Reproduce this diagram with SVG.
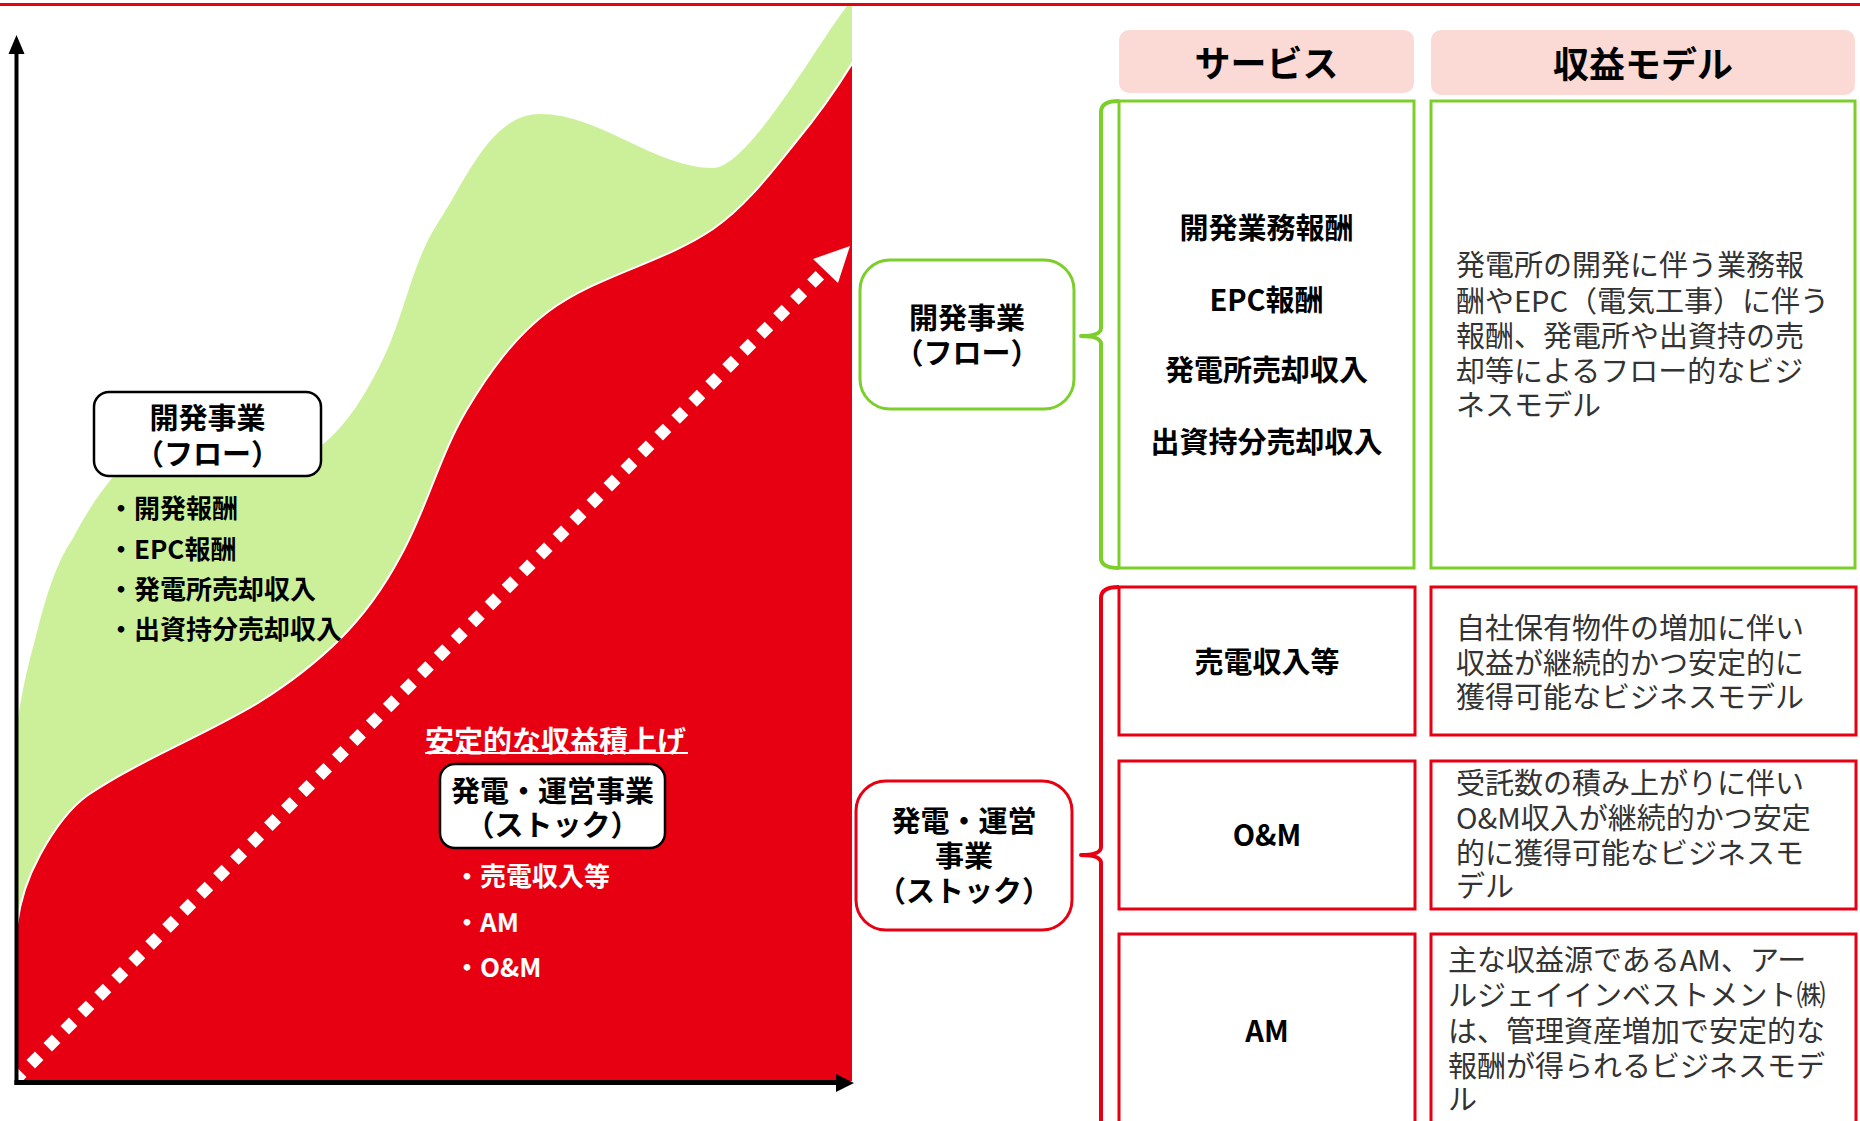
<svg xmlns="http://www.w3.org/2000/svg" width="1860" height="1121" viewBox="0 0 1860 1121">
<defs>
<style>
text{font-family:"Noto Sans CJK JP","Noto Sans",sans-serif;dominant-baseline:central}
.b{font-weight:700;font-size:29px;fill:#000}
.c{text-anchor:middle}
.it{font-weight:700;font-size:26px;fill:#000}
.w{fill:#fff}
.rv{font-weight:400;font-size:29px;fill:#333}
.hd{font-weight:700;font-size:36px;fill:#000;text-anchor:middle}
.gbox{fill:#fff;stroke:#7CCF2A;stroke-width:3}
.rbox{fill:#fff;stroke:#E60012;stroke-width:3}
.kbox{fill:#fff;stroke:#000;stroke-width:2.5}
.hbox{fill:#FBDAD6}
</style>
<clipPath id="chart"><rect x="17" y="6" width="835" height="1075"/></clipPath>
</defs>
<rect x="0" y="0" width="1860" height="1121" fill="#fff"/>
<rect x="0" y="3" width="1860" height="3" fill="#E60012"/>

<g id="chart-area" clip-path="url(#chart)">
<path d="M17,725 C22,690 28,665 35,640 C45,600 55,565 72,540 C85,515 98,495 112,478 C150,446 260,490 318,448 C348,426 368,390 384,357 C405,313 412,262 439,221 C466,180 491,114 540,114 C600,114 655,168 713,168 C750,168 825,30 852,0 L860,0 L860,1081 L17,1081 Z" fill="#CCF09A"/>
<path d="M17,925 C20,900 28,877 40,855 C52,833 68,809 88,795 C140,760 205,735 258,703 C285,686 315,664 340,639 C364,615 384,587 400,557 C426,511 439,457 466,411 C488,374 514,337 549,311 C598,275 663,263 713,229 C746,206 770,174 795,143 C819,114 841,83 860,50 L860,1081 L17,1081 Z" fill="#E60012"/>
<path d="M17,925 C20,900 28,877 40,855 C52,833 68,809 88,795 C140,760 205,735 258,703 C285,686 315,664 340,639 C364,615 384,587 400,557 C426,511 439,457 466,411 C488,374 514,337 549,311 C598,275 663,263 713,229 C746,206 770,174 795,143 C819,114 841,83 860,50" fill="none" stroke="#fff" stroke-width="2"/>
</g>

<g id="growth-arrow">
<line x1="13.76" y1="1081.24" x2="824" y2="271" stroke="#fff" stroke-width="12" stroke-dasharray="12 12"/>
<polygon points="850,246 813,259 838,283" fill="#fff"/>
</g>

<g id="axes">
<line x1="16.5" y1="1085" x2="16.5" y2="50" stroke="#000" stroke-width="4"/>
<polygon points="16.5,35 8.5,54 24.5,54" fill="#000"/>
<line x1="14.5" y1="1082.5" x2="838" y2="1082.5" stroke="#000" stroke-width="5"/>
<polygon points="854,1083 836,1074 836,1092" fill="#000"/>
</g>

<g id="flow-label">
<rect class="kbox" x="94" y="392" width="227" height="84" rx="15"/>
<text class="b c" x="207.5" y="416">開発事業</text>
<text class="b c" x="207.5" y="452">（フロー）</text>
</g>
<g id="flow-items">
<text class="it" x="108" y="506">・開発報酬</text>
<text class="it" x="108" y="547">・EPC報酬</text>
<text class="it" x="108" y="587">・発電所売却収入</text>
<text class="it" x="108" y="627">・出資持分売却収入</text>
</g>

<g id="stable-title">
<text class="b w" x="425" y="739">安定的な収益積上げ</text>
<line x1="425" y1="753" x2="688" y2="753" stroke="#fff" stroke-width="2"/>
</g>
<g id="stock-label">
<rect class="kbox" x="440" y="764" width="225" height="84" rx="15"/>
<text class="b c" x="552.5" y="789">発電・運営事業</text>
<text class="b c" x="552.5" y="823">（ストック）</text>
</g>
<g id="stock-items">
<text class="it w" x="454" y="874">・売電収入等</text>
<text class="it w" x="454" y="920">・AM</text>
<text class="it w" x="454" y="965">・O&amp;M</text>
</g>

<g id="header-service">
<rect class="hbox" x="1119" y="30" width="295" height="63" rx="10"/>
<text class="hd" x="1266.5" y="61">サービス</text>
</g>
<g id="header-model">
<rect class="hbox" x="1431" y="30" width="424" height="65" rx="10"/>
<text class="hd" x="1643" y="62">収益モデル</text>
</g>

<g id="connectors" fill="none" stroke-width="4" stroke-linejoin="round">
<path d="M1119,101 Q1101,101 1101,112 L1101,328 Q1101,336 1081,336 Q1101,336 1101,344 L1101,558 Q1101,568 1119,568" stroke="#7CCF2A"/>
<path d="M1119,587 Q1101,587 1101,598 L1101,847 Q1101,855 1081,855 Q1101,855 1101,863 L1101,1125" stroke="#E60012"/>
</g>

<g id="dev-business">
<rect class="gbox" x="860" y="260" width="214" height="149" rx="30"/>
<text class="b c" x="967" y="316">開発事業</text>
<text class="b c" x="967" y="351">（フロー）</text>
</g>
<g id="dev-services">
<rect class="gbox" x="1119" y="101" width="295" height="467"/>
<text class="b c" x="1266.5" y="226">開発業務報酬</text>
<text class="b c" x="1266.5" y="298">EPC報酬</text>
<text class="b c" x="1266.5" y="368">発電所売却収入</text>
<text class="b c" x="1266.5" y="440">出資持分売却収入</text>
</g>
<g id="dev-model">
<rect class="gbox" x="1431" y="101" width="424" height="467"/>
<text class="rv" x="1456" y="263">発電所の開発に伴う業務報</text>
<text class="rv" x="1456" y="299">酬やEPC（電気工事）に伴う</text>
<text class="rv" x="1456" y="334">報酬、発電所や出資持の売</text>
<text class="rv" x="1456" y="369">却等によるフロー的なビジ</text>
<text class="rv" x="1456" y="403">ネスモデル</text>
</g>

<g id="stock-business">
<rect class="rbox" x="856" y="781" width="216" height="149" rx="30"/>
<text class="b c" x="964" y="819">発電・運営</text>
<text class="b c" x="964" y="854">事業</text>
<text class="b c" x="964" y="889">（ストック）</text>
</g>
<g id="power-sales">
<rect class="rbox" x="1119" y="587" width="296" height="148"/>
<text class="b c" x="1267" y="660">売電収入等</text>
</g>
<g id="power-sales-model">
<rect class="rbox" x="1431" y="587" width="425" height="148"/>
<text class="rv" x="1456" y="626">自社保有物件の増加に伴い</text>
<text class="rv" x="1456" y="661">収益が継続的かつ安定的に</text>
<text class="rv" x="1456" y="695">獲得可能なビジネスモデル</text>
</g>
<g id="om">
<rect class="rbox" x="1119" y="761" width="296" height="148"/>
<text class="b c" x="1267" y="833">O&amp;M</text>
</g>
<g id="om-model">
<rect class="rbox" x="1431" y="761" width="425" height="148"/>
<text class="rv" x="1456" y="781">受託数の積み上がりに伴い</text>
<text class="rv" x="1456" y="816">O&amp;M収入が継続的かつ安定</text>
<text class="rv" x="1456" y="851">的に獲得可能なビジネスモ</text>
<text class="rv" x="1456" y="884">デル</text>
</g>
<g id="am">
<rect class="rbox" x="1119" y="934" width="296" height="200"/>
<text class="b c" x="1267" y="1029">AM</text>
</g>
<g id="am-model">
<rect class="rbox" x="1431" y="934" width="425" height="200"/>
<text class="rv" x="1448" y="958">主な収益源であるAM、アー</text>
<text class="rv" x="1448" y="993">ルジェイインベストメント㈱</text>
<text class="rv" x="1448" y="1029">は、管理資産増加で安定的な</text>
<text class="rv" x="1448" y="1064">報酬が得られるビジネスモデ</text>
<text class="rv" x="1448" y="1097">ル</text>
</g>
</svg>
